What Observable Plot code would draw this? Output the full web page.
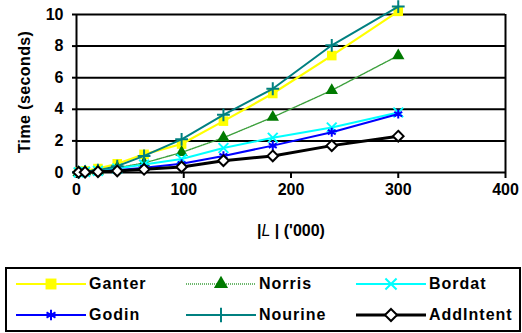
<!DOCTYPE html>
<html><head><meta charset="utf-8">
<script src="https://cdn.jsdelivr.net/npm/d3@7"></script>
<script src="https://cdn.jsdelivr.net/npm/@observablehq/plot@0.6"></script>
<style>
body{margin:0;background:#fff;}
#wrap{position:relative;width:522px;height:333px;font-family:"Liberation Sans",Arial,sans-serif;font-weight:bold;color:#000;}
#legend{position:absolute;left:5px;top:267px;width:512px;height:61px;border:2px solid #000;box-sizing:content-box;}
.item{position:absolute;height:20px;display:flex;align-items:center;}
.item span{font-size:16px;letter-spacing:1px;margin-left:3px;}
</style></head>
<body><div id="wrap"><div id="chart"></div><div id="legend"></div></div>
<script>
// data (x in thousands, time in seconds)
const sizesL = [2, 8, 20, 38, 63, 98, 137, 183, 238, 300];
const seriesNames = ["Ganter", "Norris", "Bordat", "Godin", "Nourine", "AddIntent"];
const ganter    = [0.02, 0.1, 0.25, 0.55, 1.15, 1.8, 3.25, 5.0, 7.4, 10.2];
const norris    = [0.01, 0.05, 0.1, 0.3, 0.6, 1.27, 2.2, 3.5, 5.2, 7.4];
const bordat    = [0.01, 0.04, 0.1, 0.25, 0.5, 0.85, 1.55, 2.2, 2.85, 3.8];
const godin     = [0.01, 0.03, 0.08, 0.15, 0.3, 0.55, 1.05, 1.7, 2.55, 3.7];
const nourine   = [0.01, 0.05, 0.15, 0.4, 1.05, 2.1, 3.65, 5.3, 8.05, 10.5];
const addIntent = [0.01, 0.02, 0.05, 0.1, 0.2, 0.35, 0.75, 1.05, 1.7, 2.3];
const yTicks = [0, 2, 4, 6, 8, 10];
const xTicks = [0, 100, 200, 300, 400];

const values = [ganter, norris, bordat, godin, nourine, addIntent];
const styles = [
  {color:"#ffff00", width:2.2, dash:null, symbol:"square", r:5.4, fill:"#ffff00", stroke:"none", sw:0},
  {color:"#3da03d", width:1.4, dash:"1,1", symbol:"triangle", r:4.6, fill:"#007a00", stroke:"none", sw:0},
  {color:"#00ffff", width:2, dash:null, symbol:"times", r:4.5, fill:"none", stroke:"#00ffff", sw:2},
  {color:"#0000ff", width:2, dash:null, symbol:"asterisk", r:4.3, fill:"none", stroke:"#0000ff", sw:2},
  {color:"#008080", width:2, dash:null, symbol:"plus", r:4.2, fill:"none", stroke:"#008080", sw:2},
  {color:"#000000", width:3, dash:null, symbol:"diamond2", r:4.8, fill:"#ffffff", stroke:"#000000", sw:2}
];

const marks = [
  Plot.ruleY(yTicks, {stroke:"#000", strokeWidth:2}),
  Plot.ruleX([0, 400], {stroke:"#000", strokeWidth:2}),
  Plot.axisY(yTicks, {tickSize:4, tickPadding:9, strokeWidth:2, label:null, fontSize:16, fontWeight:"bold"}),
  Plot.axisX(xTicks, {tickSize:6, tickPadding:5, strokeWidth:2, label:null, fontSize:16, fontWeight:"bold"})
];
seriesNames.forEach((name, k) => {
  const rows = sizesL.map((x, i) => ({x, y: values[k][i], series: name}));
  const s = styles[k];
  marks.push(Plot.line(rows, {x:"x", y:"y", stroke:s.color, strokeWidth:s.width, strokeDasharray:s.dash}));
  marks.push(Plot.dot(rows, {x:"x", y:"y", symbol:s.symbol, r:s.r, fill:s.fill, stroke:s.stroke, strokeWidth:s.sw}));
});

const chart = Plot.plot({
  width:522, height:262,
  marginLeft:76, marginRight:17, marginTop:14, marginBottom:90,
  x:{domain:[0,400]},
  y:{domain:[0,10]},
  style:{fontFamily:"'Liberation Sans', Arial, sans-serif", fontSize:"16px", fontWeight:"bold", overflow:"visible"},
  marks
});
document.getElementById("chart").appendChild(chart);

const svg = d3.select(chart);
svg.append("text")
  .attr("transform","translate(30,92) rotate(-90)")
  .attr("text-anchor","middle")
  .attr("font-size",16).attr("font-weight","bold").attr("letter-spacing","0.4px")
  .text("Time (seconds)");
const xl = svg.append("text").attr("x",291).attr("y",236).attr("text-anchor","middle")
  .attr("font-size",16).attr("font-weight","bold");
xl.append("tspan").text("|");
xl.append("tspan").attr("font-style","italic").attr("font-weight","normal").text("L");
xl.append("tspan").text(" | ('000)");

// legend
const symMap = {square:d3.symbolSquare, triangle:d3.symbolTriangle, times:d3.symbolTimes, asterisk:d3.symbolAsterisk, plus:d3.symbolPlus, diamond2:d3.symbolDiamond2};
const legendPos = [[9,5],[179,5],[349,5],[9,36],[179,36],[349,36]];
const legend = d3.select("#legend");
seriesNames.forEach((name, k) => {
  const s = styles[k];
  const it = legend.append("div").attr("class","item").style("left",legendPos[k][0]+"px").style("top",legendPos[k][1]+"px");
  const sv = it.append("svg").attr("width",70).attr("height",20);
  sv.append("line").attr("x1",0).attr("x2",70).attr("y1",10).attr("y2",10)
    .attr("stroke",s.color).attr("stroke-width",s.width).attr("stroke-dasharray",s.dash);
  sv.append("path").attr("transform","translate(35,10)")
    .attr("d", d3.symbol(symMap[s.symbol], Math.PI*s.r*s.r*1.3)())
    .attr("fill",s.fill).attr("stroke",s.stroke).attr("stroke-width",s.sw);
  it.append("span").text(name);
});
</script></body></html>
